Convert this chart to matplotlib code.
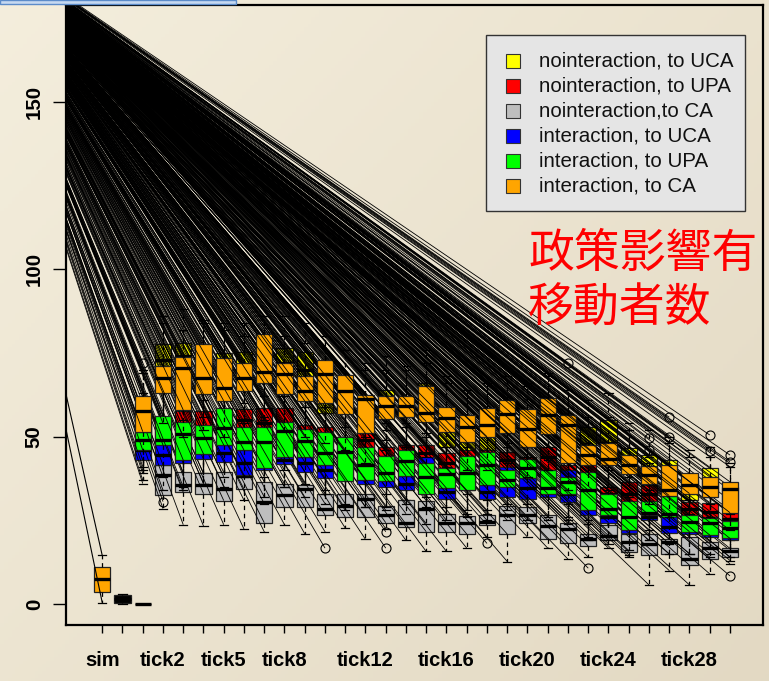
import numpy as np
import matplotlib.pyplot as plt
from matplotlib.collections import LineCollection
from matplotlib.patches import Rectangle

plt.rcParams['font.family'] = ['Liberation Sans Narrow', 'Liberation Sans', 'DejaVu Sans']

W, H = 769, 681

# ---- categories / labels ----
categories = ['sim'] + ['tick%d' % i for i in range(31)]
shown_labels = ['sim', 'tick2', 'tick5', 'tick8', 'tick12', 'tick16', 'tick20', 'tick24', 'tick28']
series_ticks = categories[2:]          # tick1 .. tick30

# ---- sim / tick0 boxes ----
sim_names = ['sim', 'tick0']
sim_colors = ['#FFA500', 'black']
sim_q1 = [3.7, 0.4]
sim_med = [7.4, 1.5]
sim_q3 = [11.0, 2.8]
sim_lo = [0.4, 0.0]
sim_hi = [14.5, 3.0]

# ---- nointeraction, to UCA (yellow) ----
nui_q1 = [50, 64, 66, 63, 62, 64, 66, 64, 62, 57, 57, 52, 56, 56, 55, 47, 45, 46, 51, 47, 51, 45, 42, 43, 39, 36, 33, 31, 33, 28]
nui_med = [55, 73, 74, 68, 68, 70, 70, 72, 70, 64, 62, 56, 60, 57, 59, 52, 50, 52, 55, 51, 55, 50, 47, 48, 42, 40, 37, 34, 37, 31]
nui_q3 = [60, 77.7, 78, 74, 75, 75.3, 76, 76.6, 75.4, 70, 66, 60, 64, 61, 66, 57, 55, 57, 59, 56, 60, 55, 53, 55, 46.5, 44.5, 43, 37, 40.6, 35]
nui_lo = [40, 55, 56, 54, 52, 55, 56, 54, 52, 48, 48, 44, 47, 47, 46, 40, 38, 38, 42, 38, 42, 36, 34, 35, 31, 29, 26, 24, 26, 21]
nui_hi = [70, 86, 88, 84, 84, 84, 86, 86, 84, 80, 76, 70, 74, 71, 76, 66, 64, 66, 68, 65, 69, 64, 61, 63, 54, 52, 50, 44, 47, 42]
nui_fliers = {}

# ---- nointeraction, to UPA (red) ----
nup_q1 = [45, 46, 47, 47, 46, 48, 47, 48, 43, 42, 40, 46, 41, 39, 40, 37, 36, 36, 38, 35, 40, 34, 32, 29, 29, 30, 25, 26.6, 25.9, 23]
nup_med = [50, 51, 53, 53, 52, 55, 54, 54, 49, 48, 45, 49, 44, 43, 45, 42, 41, 41, 43, 40, 44, 38, 37, 33, 33, 33, 29, 28.5, 27.5, 25.5]
nup_q3 = [55, 56, 57.6, 57.8, 57, 58.3, 58.5, 58.5, 53.5, 53, 50, 51, 47, 47.4, 47.4, 45, 46, 46, 45.5, 44, 47, 41.5, 41.5, 35, 36.5, 35.5, 32, 30.6, 30.3, 27.3]
nup_lo = [37, 38, 39, 39, 38, 40, 38, 40, 35, 34, 32, 38, 33, 31, 32, 29, 28, 28, 30, 27, 32, 26, 24, 21, 22, 22, 18, 19, 18, 16]
nup_hi = [63, 64, 66, 66, 65, 67, 67, 67, 61, 61, 58, 58, 54, 54, 55, 52, 53, 53, 53, 51, 54, 48, 48, 42, 43, 42, 39, 37, 37, 34]
nup_fliers = {}

# ---- nointeraction, to CA (gray) ----
nca_q1 = [0, 32.6, 33.4, 33, 30.9, 34.3, 24.3, 28.9, 28.9, 26.6, 26, 26, 24.3, 23, 21.6, 21.4, 20.9, 23.6, 20.9, 24.1, 19.3, 18.1, 17.3, 19.1, 15.6, 14.6, 14.9, 11.6, 13.4, 14]
nca_med = [0, 38.5, 35.5, 35.5, 34.3, 38.2, 30.6, 32.6, 34.3, 28.4, 29.4, 31.4, 26.6, 24.3, 28.4, 24.2, 24.2, 24.6, 26.6, 26.7, 23.3, 22.3, 19.3, 20.4, 18.4, 17.9, 18.5, 13.4, 16.7, 15.7]
nca_q3 = [0, 41.5, 39.3, 39, 39.3, 38.5, 36.5, 35.9, 35.5, 33, 33, 33, 29.4, 31, 30.9, 26.9, 26.4, 26.6, 29.4, 29, 26.6, 24.3, 20.9, 23.6, 20.9, 20.9, 19.3, 20.1, 18.6, 16.6]
nca_lo = [0, 28.5, 23.7, 23.3, 23.7, 22.4, 21.6, 23.7, 21, 21.6, 22.7, 19.3, 22.5, 19, 15.7, 15.7, 16.7, 20, 12.7, 20, 16.7, 13.4, 14, 16.7, 14.7, 5.7, 10, 5.7, 9, 12]
nca_hi = [0, 48, 46, 46, 47, 45, 44, 43, 42, 40, 40, 40, 36, 38, 38, 33, 33, 31, 36, 34, 33, 30, 25, 28, 26, 26, 24, 26, 23, 19]
nca_fliers = {'tick10': [16.7], 'tick13': [21.6, 16.7], 'tick18': [18.1], 'tick23': [10.7], 'tick30': [8.4]}

# ---- interaction, to UCA (blue) ----
iuc_q1 = [43, 41.5, 42, 43.3, 42.5, 38.5, 40, 41.7, 39.5, 37.6, 38, 36, 35, 34, 36, 31.4, 34, 31.4, 32, 31.4, 32, 30.6, 26.6, 24.3, 21.2, 25, 21.1, 21, 20, 19]
iuc_med = [46, 44.5, 45, 46, 45, 42, 44, 43, 42, 40, 42, 39, 38, 36, 40, 33.5, 37, 33.5, 36, 34.6, 34, 33, 29, 26, 23, 26, 23, 23, 22, 20]
iuc_q3 = [49, 48.5, 48, 49, 47.5, 46, 48, 44, 44, 41.5, 46, 43, 42, 38.3, 44, 34.6, 40, 35.5, 41, 37.6, 36, 40, 32, 28, 26, 28, 26, 25, 24, 22]
iuc_lo = [36, 34, 35, 36, 35, 31, 32, 35, 32, 30, 30, 29, 28, 27, 29, 25, 27, 25, 25, 25, 26, 24, 20, 18, 16, 19, 15, 15, 15, 14]
iuc_hi = [56, 55, 55, 56, 54, 53, 55, 51, 51, 48, 53, 50, 49, 45, 51, 41, 47, 42, 48, 44, 43, 47, 39, 35, 32, 34, 32, 31, 30, 27]
iuc_fliers = {'tick2': [30.6]}

# ---- interaction, to UPA (green) ----
iup_q1 = [46, 47.5, 43, 44.8, 47.5, 46, 40.7, 44, 44, 41.5, 36.8, 37, 36.8, 38.3, 33, 34.6, 34, 35.5, 35, 37.6, 33, 33, 28, 26.6, 22.1, 26.6, 26, 21.6, 20.6, 19.6]
iup_med = [49, 49, 50.7, 49.5, 52.5, 48.3, 48.3, 51.7, 48.8, 45.2, 45.5, 41.5, 39, 42.7, 38, 38.9, 39.1, 41.5, 37, 40.5, 34.6, 36.6, 34.1, 28.4, 26, 27.1, 27, 24.6, 24.1, 22.6]
iup_q3 = [51.5, 56.2, 54.5, 53.5, 58.5, 53, 53, 54.5, 52.3, 51.5, 50, 46.8, 44.2, 46, 42, 40.6, 44.2, 45.5, 40, 43.2, 40, 38, 39.5, 33, 30.9, 30.9, 32.4, 26.6, 25.6, 24.9]
iup_lo = [39, 38, 34, 36, 38, 38, 30, 35, 36, 33, 28, 29, 29, 30, 24, 27, 26, 27, 28, 30, 25, 25, 19, 19, 14, 19, 18, 15, 14, 13]
iup_hi = [58, 64, 63, 61, 66, 60, 62, 62, 59, 59, 58, 54, 52, 53, 50, 47, 51, 53, 47, 50, 47, 45, 47, 40, 38, 38, 40, 33, 32, 31]
iup_fliers = {}

# ---- interaction, to CA (orange) ----
ica_q1 = [51.5, 63, 58, 62.7, 60.7, 63.6, 66, 62.7, 60.7, 60.1, 56.7, 51, 55.2, 55.8, 54.5, 51.5, 48.5, 50, 51, 46.8, 50.8, 42, 41.5, 41.5, 38.8, 35.9, 32.4, 33, 32, 27.3]
ica_med = [57.7, 67.6, 70.5, 67.6, 64.4, 67.6, 69.4, 68.7, 63.6, 68.6, 63.6, 61.2, 59.2, 59.2, 57, 55.5, 53, 53.5, 56.8, 52.2, 56.5, 53.5, 44.5, 43.2, 41.5, 38.5, 34, 35.5, 35, 34.3]
ica_q3 = [62, 71, 73.8, 77.7, 73.5, 72, 80.7, 72, 68, 72.9, 68.4, 62.4, 62.1, 62.1, 65.1, 59, 56.5, 58.5, 61, 58.3, 61.5, 56.5, 47.5, 48, 44.5, 41.2, 41.5, 39, 38, 36.5]
ica_lo = [41, 54, 50, 52, 50, 54, 56, 52, 50, 48, 46, 42, 46, 47, 44, 42, 40, 40, 42, 38, 40, 34, 34, 34, 32, 30, 26, 27, 26, 22]
ica_hi = [69, 84, 82, 85, 82, 80, 86, 80, 78, 80, 76, 72, 70, 70, 72, 68, 64, 66, 68, 66, 68, 64, 56, 56, 52, 44, 48, 46, 44, 41]
ica_fliers = {'tick1': [72], 'tick22': [72], 'tick26': [49.5, 46], 'tick27': [55.8, 49.8],
              'tick29': [50.5, 45.7], 'tick30': [44.5, 42.5]}

legend_labels = ['nointeraction, to UCA', 'nointeraction, to UPA', 'nointeraction,to CA',
                 'interaction, to UCA', 'interaction, to UPA', 'interaction, to CA']
legend_colors = ['#FFFF00', '#FF0000', '#BEBEBE', '#0000FF', '#00FF00', '#FFA500']

# all the black rays start from one point up-left of the plot
fan_origin = (-6.0, 203.0)

series = [
    (nui_q1, nui_med, nui_q3, nui_lo, nui_hi, nui_fliers),
    (nup_q1, nup_med, nup_q3, nup_lo, nup_hi, nup_fliers),
    (nca_q1, nca_med, nca_q3, nca_lo, nca_hi, nca_fliers),
    (iuc_q1, iuc_med, iuc_q3, iuc_lo, iuc_hi, iuc_fliers),
    (iup_q1, iup_med, iup_q3, iup_lo, iup_hi, iup_fliers),
    (ica_q1, ica_med, ica_q3, ica_lo, ica_hi, ica_fliers),
]


def make_stats(names, q1, med, q3, lo, hi, fliers):
    out = []
    for i, n in enumerate(names):
        out.append(dict(label=n, q1=q1[i], med=med[i], q3=q3[i], whislo=lo[i], whishi=hi[i],
                        fliers=fliers.get(n, [])))
    return out


def draw_boxes(ax, stats, positions, color, z):
    bp = ax.bxp(stats, positions=positions, widths=0.8, patch_artist=True, manage_ticks=False, zorder=z,
                boxprops=dict(edgecolor='#222222', linewidth=0.9),
                medianprops=dict(color='black', linewidth=2.4, solid_capstyle='butt'),
                whiskerprops=dict(color='black', linewidth=0.9, linestyle=(0, (3.5, 3))),
                capprops=dict(color='black', linewidth=0.9),
                flierprops=dict(marker='o', markerfacecolor='none', markeredgecolor='black',
                                markersize=6.5, markeredgewidth=0.8))
    cols = color if isinstance(color, list) else [color] * len(stats)
    for patch, c in zip(bp['boxes'], cols):
        patch.set_facecolor(c)
    return bp


def rays(stats, positions, full=True):
    segs = []
    for s, p in zip(stats, positions):
        if s['whishi'] == s['whislo']:
            continue
        ends = [s['whislo'], s['whishi']] + list(s['fliers'])
        if full:
            ends += [s['q1'], s['q3']]
        for v in ends:
            segs.append([fan_origin, (p, v)])
    return segs


fig = plt.figure(figsize=(W / 100, H / 100), dpi=100)

# slide-like background gradient
bg = fig.add_axes([0, 0, 1, 1], zorder=-10)
gx, gy = np.meshgrid(np.linspace(0, 1, 200), np.linspace(0, 1, 200))
t = np.clip((gx * 0.55 + gy * 0.45), 0, 1)[..., None]
c0 = np.array([0.957, 0.933, 0.865])
c1 = np.array([0.890, 0.851, 0.765])
bg.imshow(c0 * (1 - t) + c1 * t, aspect='auto', extent=[0, 1, 1, 0])
bg.set_axis_off()

ax = fig.add_axes([66 / W, 1 - 625 / H, (763 - 66) / W, (625 - 5) / H])
ax.set_facecolor('none')

all_pos = np.arange(1, len(categories) + 1)
pos_of = dict(zip(categories, all_pos))

# sim group
sim_stats = make_stats(sim_names, sim_q1, sim_med, sim_q3, sim_lo, sim_hi, {})
sim_pos = [pos_of[n] for n in sim_names]
draw_boxes(ax, sim_stats, sim_pos, sim_colors, 2)
ax.add_collection(LineCollection(rays(sim_stats[:1], sim_pos[:1], full=False), colors='black',
                                 linewidths=0.8, zorder=2.5))

series_pos = [pos_of[n] for n in series_ticks]
for k, (q1, med, q3, lo, hi, fl) in enumerate(series):
    st = make_stats(series_ticks, q1, med, q3, lo, hi, fl)
    z = 3 + 2 * k
    draw_boxes(ax, st, series_pos, legend_colors[k], z)
    ax.add_collection(LineCollection(rays(st, series_pos), colors='black', linewidths=0.6, zorder=z + 1))

ax.set_xlim(-0.79, 33.63)
ax.set_ylim(-6.27, 178.97)

ax.set_xticks(all_pos)
ax.set_xticklabels([c if c in shown_labels else '' for c in categories], fontsize=14.5, fontweight='bold')
ax.set_yticks([0, 50, 100, 150])
ax.set_yticklabels(['0', '50', '100', '150'], rotation=90, va='center', fontsize=14.8, fontweight='bold')
ax.tick_params(axis='x', length=6, width=1.0, pad=13, color='black')
ax.tick_params(axis='y', length=9.5, width=1.0, pad=6.5, color='black')
for sp in ax.spines.values():
    sp.set_linewidth(1.6)
    sp.set_color('black')

# legend box (drawn by hand to match the slide)
def fx(x):
    return x / W


def fy(y):
    return 1 - y / H


fig.add_artist(Rectangle((fx(486), fy(211)), fx(745) - fx(486), fy(35) - fy(211), transform=fig.transFigure,
                         facecolor='#E5E5E5', edgecolor='#333333', linewidth=1.0, zorder=20))
for i, (lab, col) in enumerate(zip(legend_labels, legend_colors)):
    yc = 60.7 + i * 25.0
    fig.add_artist(Rectangle((fx(505.5), fy(yc + 7)), 14 / W, 14 / H, transform=fig.transFigure,
                             facecolor=col, edgecolor='#333333', linewidth=0.8, zorder=21))
    fig.text(fx(539), fy(yc), lab, fontsize=14.8, family=['Liberation Sans', 'DejaVu Sans'],
             va='center', ha='left', color='#111111', zorder=21)

# red annotation
fig.text(fx(528), fy(254), '政策影響有', color='#FF0000', fontsize=33,
         family=['Noto Sans CJK JP', 'DejaVu Sans'], va='center', ha='left', zorder=22)
fig.text(fx(528), fy(308), '移動者数', color='#FF0000', fontsize=33,
         family=['Noto Sans CJK JP', 'DejaVu Sans'], va='center', ha='left', zorder=22)

# thin slide bar at the top-left
fig.add_artist(Rectangle((0, fy(4)), fx(236), 4 / H, transform=fig.transFigure,
                         facecolor='#C6D9F1', edgecolor='#5B8BC9', linewidth=1.0, zorder=22))

fig.savefig('out.png', dpi=100)
